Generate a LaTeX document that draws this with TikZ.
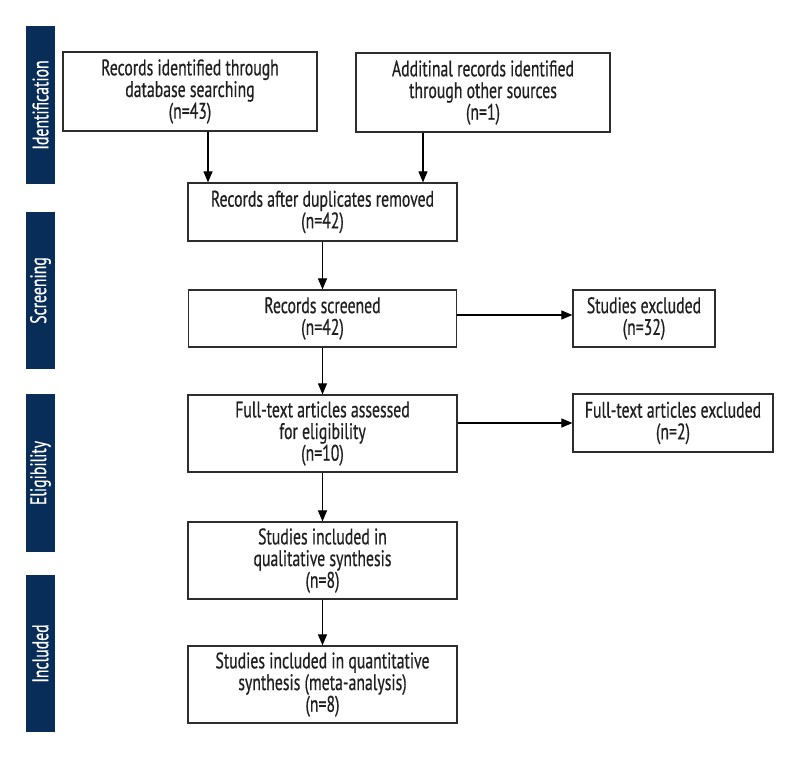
\documentclass[tikz,border=0pt]{standalone}
\usepackage{fontspec}
\setmainfont{PT Sans}[FakeStretch=0.70,FakeBold=0.5]
\usetikzlibrary{arrows.meta,calc}
\definecolor{navy}{RGB}{9,45,89}
\definecolor{edge}{RGB}{45,45,45}
\begin{document}
\begin{tikzpicture}[x=1pt,y=-1pt,
  box/.style={draw=edge,line width=1.2pt,fill=white,inner sep=0pt,align=center,
    text=black!88,font=\fontsize{22.5}{21.7}\selectfont},
  side/.style={fill=navy,draw=none,inner sep=0pt,minimum width=158pt,minimum height=29pt,
    rotate=90,text=white,font=\fontsize{22.5}{22}\selectfont},
  arr/.style={line width=1.1pt,draw=black,-{Triangle[length=11pt,width=9pt]}}]
\useasboundingbox (0,0) rectangle (800,760);
% side bars
\node[side] (sid) at (40.5,105) {Identification};
\node[side,minimum width=157pt] (sscr) at (40.5,290.5) {Screening};
\node[side] (selig) at (40.5,473) {Eligibility};
\node[side,minimum width=157pt] (sinc) at (40.5,653.5) {Included};
% boxes
\node[box,minimum width=254pt,minimum height=79pt] (b1) at (190,91.5)
  {Records identified through\\database searching\\(n=43)};
\node[box,minimum width=254pt,minimum height=79pt] (b2) at (483,92.5)
  {Additinal records identified\\through other sources\\(n=1)};
\node[box,minimum width=269pt,minimum height=58pt] (b3) at (322.5,212)
  {Records after duplicates removed\\(n=42)};
\node[box,minimum width=268pt,minimum height=57pt] (b4) at (322.5,318.5)
  {Records screened\\(n=42)};
\node[box,minimum width=269pt,minimum height=77pt] (b5) at (322.5,433.5)
  {Full-text articles assessed\\for eligibility\\(n=10)};
\node[box,minimum width=269pt,minimum height=77pt] (b6) at (322.5,560.5)
  {Studies included in\\qualitative synthesis\\(n=8)};
\node[box,minimum width=269pt,minimum height=77pt] (b7) at (322.5,684.5)
  {Studies included in quantitative\\synthesis (meta-analysis)\\(n=8)};
\node[box,minimum width=142pt,minimum height=57pt] (e1) at (644,318.5)
  {Studies excluded\\(n=32)};
\node[box,minimum width=200pt,minimum height=58pt] (e2) at (673,423)
  {Full-text articles excluded\\(n=2)};
% connector guides
\coordinate (g1) at (208,0);
\coordinate (g2) at (423,0);
\coordinate (g3) at (0,315);
% connectors
\draw[arr] (b1.south -| g1) -- (b3.north -| g1);
\draw[arr] (b2.south -| g2) -- (b3.north -| g2);
\draw[arr] (b3) -- (b4);
\draw[arr] (b4.east |- g3) -- (e1.west |- g3);
\draw[arr] (b4) -- (b5);
\draw[arr] (b5.east |- e2.west) -- (e2.west);
\draw[arr] (b5) -- (b6);
\draw[arr] (b6) -- (b7);
\end{tikzpicture}
\end{document}
